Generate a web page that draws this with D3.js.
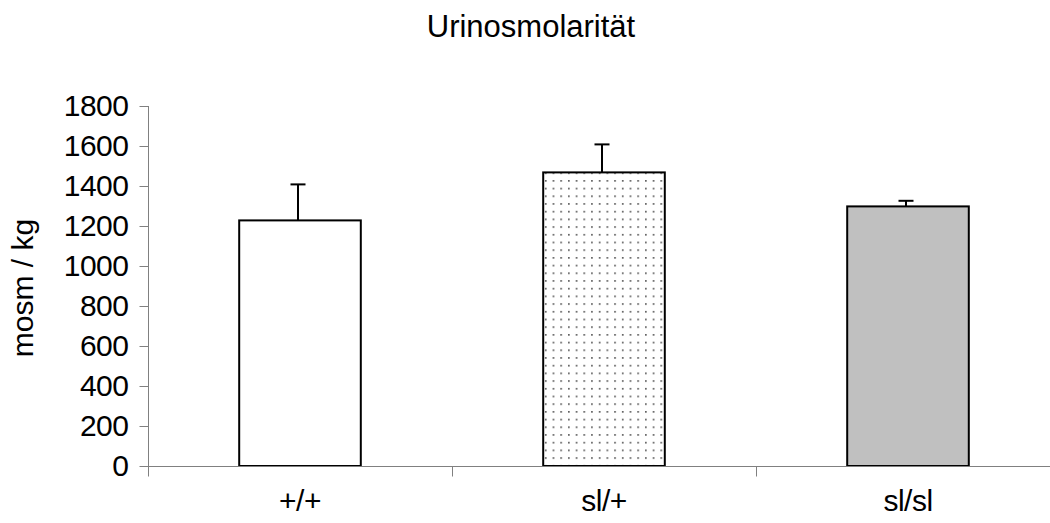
<!DOCTYPE html>
<html>
<head>
<meta charset="utf-8">
<script src="https://cdn.jsdelivr.net/npm/d3@7"></script>
<style>
  html, body { margin: 0; padding: 0; background: #fff; }
  svg { display: block; font-family: "Liberation Sans", Arial, sans-serif; }
</style>
</head>
<body>
<svg id="chart" width="1050" height="523"></svg>
<script>
// Genotype groups and mean urine osmolality (mosm/kg) with error
const categories = ["+/+", "sl/+", "sl/sl"];
const values = [1228, 1468, 1298];
const errors = [180, 140, 28];
const yTicks = [0, 200, 400, 600, 800, 1000, 1200, 1400, 1600, 1800];
const fills = ["#ffffff", "url(#dots)", "#c0c0c0"];

const svg = d3.select("#chart");

// dotted fill for the middle bar
const defs = svg.append("defs");
const pat = defs.append("pattern")
  .attr("id", "dots").attr("patternUnits", "userSpaceOnUse")
  .attr("width", 7.7).attr("height", 7.7).attr("x", 542).attr("y", 0);
pat.append("rect").attr("width", 7.7).attr("height", 7.7).attr("fill", "#fff");
pat.append("rect").attr("x", 3).attr("y", 3).attr("width", 1.5).attr("height", 1.5).attr("fill", "#333");

const x = d3.scaleBand().domain(categories).range([148, 1060]).padding(0);
const y = d3.scaleLinear().domain([0, 1800]).range([466, 106]);
const barW = x.bandwidth() * 0.4;

// title
svg.append("text").attr("x", 531).attr("y", 37)
  .attr("text-anchor", "middle").attr("font-size", 31)
  .text("Urinosmolarität");

// y axis
const yAxis = d3.axisLeft(y).tickValues(yTicks).tickSize(9).tickPadding(11).tickFormat(d3.format("d"));
const gy = svg.append("g").attr("transform", "translate(148.5,0)").call(yAxis);
gy.select(".domain").attr("stroke", "#808080").attr("d", `M0,${y(1800)}V${y(0) + 10}`);
gy.selectAll(".tick line").attr("stroke", "#808080");
gy.selectAll(".tick text").attr("font-size", 30).attr("fill", "#000")
  .attr("letter-spacing", -0.5).attr("font-family", "Liberation Sans, Arial, sans-serif");

// y axis title
svg.append("text").attr("transform", "translate(33,288) rotate(-90)")
  .attr("text-anchor", "middle").attr("font-size", 30)
  .text("mosm / kg");

// bars
const bars = svg.append("g");
bars.selectAll("rect").data(categories).join("rect")
  .attr("x", d => x(d) + (x.bandwidth() - barW) / 2)
  .attr("y", (d, i) => y(values[i]))
  .attr("width", barW)
  .attr("height", (d, i) => y(0) - y(values[i]))
  .attr("fill", (d, i) => fills[i])
  .attr("stroke", "#000").attr("stroke-width", 2);

// error bars (upper only)
const eb = svg.append("g").attr("stroke", "#000").attr("stroke-width", 2);
categories.forEach((c, i) => {
  const cx = x(c) + x.bandwidth() / 2 - 2;
  eb.append("line").attr("x1", cx).attr("x2", cx)
    .attr("y1", y(values[i])).attr("y2", y(values[i] + errors[i]));
  eb.append("line").attr("x1", cx - 7.5).attr("x2", cx + 7.5)
    .attr("y1", y(values[i] + errors[i])).attr("y2", y(values[i] + errors[i]));
});

// x axis
const xAxis = d3.axisBottom(x).tickSize(0).tickPadding(0).tickFormat("");
const gx = svg.append("g").attr("transform", "translate(0,466.5)").call(xAxis);
gx.select(".domain").attr("stroke", "#808080").attr("d", "M140,0H1060");
gx.selectAll(".tick").remove();
// category separators
gx.selectAll("line.sep").data(categories).join("line").attr("class", "sep")
  .attr("x1", d => x(d) + 0.5).attr("x2", d => x(d) + 0.5)
  .attr("y1", 0).attr("y2", 10).attr("stroke", "#808080");
// category labels
svg.append("g").selectAll("text").data(categories).join("text")
  .attr("x", d => x(d) + x.bandwidth() / 2)
  .attr("y", 511)
  .attr("text-anchor", "middle").attr("font-size", 30).attr("letter-spacing", -0.5)
  .text(d => d);
</script>
</body>
</html>
